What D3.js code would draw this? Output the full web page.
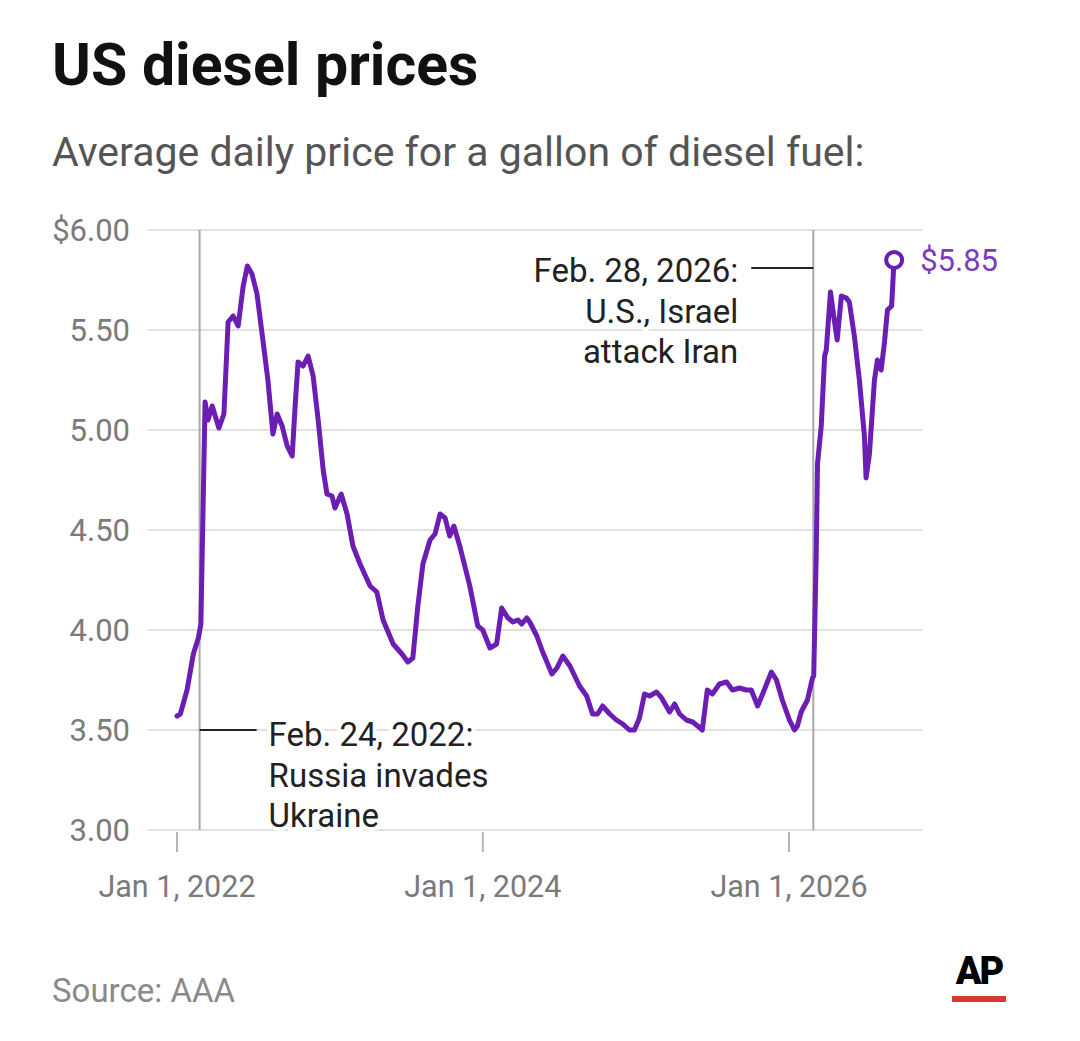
<!DOCTYPE html>
<html>
<head>
<meta charset="utf-8">
<script src="https://cdn.jsdelivr.net/npm/d3@7"></script>
<style>
  html, body { margin: 0; padding: 0; background: #fff; }
  svg { display: block; font-family: Roboto, "Noto Sans", sans-serif; }
</style>
</head>
<body>
<div class="chart"></div>
<script>
// average daily diesel price
const dates = [
  "2022-01-01","2022-01-09","2022-01-25","2022-02-09","2022-02-21","2022-02-27",
  "2022-03-09","2022-03-16","2022-03-26","2022-04-11","2022-04-23","2022-05-03",
  "2022-05-15","2022-05-27","2022-06-08","2022-06-18","2022-06-29","2022-07-11",
  "2022-07-25","2022-08-06","2022-08-18","2022-08-28","2022-09-09","2022-09-21",
  "2022-10-03","2022-10-10","2022-10-17","2022-10-29","2022-11-10","2022-11-22",
  "2022-12-04","2022-12-16","2022-12-25","2023-01-06","2023-01-13","2023-01-28",
  "2023-02-11","2023-02-25","2023-03-14","2023-04-07","2023-04-23","2023-05-08",
  "2023-06-01","2023-06-22","2023-07-06","2023-07-18","2023-07-30","2023-08-11",
  "2023-08-28","2023-09-09","2023-09-21","2023-10-03","2023-10-14","2023-10-24",
  "2023-11-07","2023-12-01","2023-12-20","2024-01-01","2024-01-18","2024-02-03",
  "2024-02-15","2024-03-01","2024-03-13","2024-03-25","2024-04-03","2024-04-15",
  "2024-04-22","2024-05-09","2024-05-23","2024-06-14","2024-06-26","2024-07-10",
  "2024-07-27","2024-08-19","2024-09-05","2024-09-19","2024-10-01","2024-10-13",
  "2024-10-30","2024-11-15","2024-11-30","2024-12-16","2024-12-28","2025-01-09",
  "2025-01-21","2025-02-02","2025-02-19","2025-03-03","2025-03-22","2025-04-03",
  "2025-04-15","2025-05-01","2025-05-16","2025-05-28","2025-06-08","2025-06-20",
  "2025-07-02","2025-07-19","2025-08-05","2025-08-19","2025-09-05","2025-09-21",
  "2025-10-03","2025-10-18","2025-10-30","2025-11-20","2025-12-02","2025-12-16",
  "2026-01-02","2026-01-14","2026-01-21","2026-01-30","2026-02-14","2026-02-26",
  "2026-03-01","2026-03-07","2026-03-10","2026-03-19","2026-03-27","2026-03-31",
  "2026-04-10","2026-04-19","2026-04-26","2026-05-06","2026-05-18","2026-05-25",
  "2026-06-06","2026-06-18","2026-06-30","2026-07-04","2026-07-12","2026-07-24",
  "2026-07-31","2026-08-09","2026-08-17","2026-08-24","2026-09-03","2026-09-07",
  "2026-09-09"
]
const prices = [
  3.57,3.58,3.70,3.88,3.96,4.03,
  5.14,5.05,5.12,5.01,5.08,5.54,
  5.57,5.52,5.72,5.82,5.78,5.68,
  5.45,5.25,4.98,5.08,5.02,4.92,
  4.87,5.12,5.34,5.32,5.37,5.27,
  5.05,4.80,4.68,4.67,4.61,4.68,
  4.58,4.42,4.33,4.22,4.19,4.05,
  3.93,3.88,3.84,3.86,4.12,4.33,
  4.45,4.48,4.58,4.56,4.47,4.52,
  4.42,4.22,4.02,4.00,3.91,3.93,
  4.11,4.06,4.04,4.05,4.03,4.06,
  4.04,3.97,3.89,3.78,3.81,3.87,
  3.82,3.72,3.67,3.58,3.58,3.62,
  3.58,3.55,3.53,3.50,3.50,3.56,
  3.68,3.67,3.69,3.66,3.59,3.63,
  3.58,3.55,3.54,3.52,3.50,3.70,
  3.68,3.73,3.74,3.70,3.71,3.70,
  3.70,3.62,3.68,3.79,3.75,3.65,
  3.55,3.50,3.52,3.59,3.65,3.76,
  3.77,4.38,4.83,5.02,5.37,5.40,
  5.69,5.55,5.45,5.67,5.66,5.64,
  5.47,5.25,4.97,4.76,4.88,5.25,
  5.35,5.30,5.44,5.60,5.62,5.78,
  5.85
]

const yTicks = [3, 3.5, 4, 4.5, 5, 5.5, 6]
const xTicks = ["2022-01-01", "2024-01-01", "2026-01-01"]
const events = [
  { date: "2022-02-24", lines: ["Feb. 24, 2022:", "Russia invades", "Ukraine"] },
  { date: "2026-02-28", lines: ["Feb. 28, 2026:", "U.S., Israel", "attack Iran"] }
]

const width = 1080
const height = 1041
const purple = "#6b1db4"
const parse = d3.timeParse("%Y-%m-%d")
const data = dates.map((d, i) => ({ date: parse(d), price: prices[i] }))

const gridLeft = 148
const gridRight = 922

const x = d3.scaleTime()
    .domain([parse("2022-01-01"), parse("2026-01-01")])
    .range([177, 789])
const y = d3.scaleLinear()
    .domain([3, 6])
    .range([830, 230])

const svg = d3.select(".chart")
    .append("svg")
    .attr("width", width)
    .attr("height", height)
    .attr("viewBox", `0 0 ${width} ${height}`)

// title + subtitle
svg.append("text")
    .attr("x", 52)
    .attr("y", 85)
    .attr("font-size", 59)
    .attr("font-weight", 700)
    .attr("fill", "#111")
    .text("US diesel prices")

svg.append("text")
    .attr("x", 52)
    .attr("y", 166)
    .attr("font-size", 41)
    .attr("fill", "#555")
    .text("Average daily price for a gallon of diesel fuel:")

// grid + y labels
svg.append("g")
    .selectAll("line")
    .data(yTicks)
    .join("line")
    .attr("x1", gridLeft)
    .attr("x2", gridRight)
    .attr("y1", d => y(d))
    .attr("y2", d => y(d))
    .attr("stroke", "#e1e1e1")
    .attr("stroke-width", 2)

svg.append("g")
    .selectAll("text")
    .data(yTicks)
    .join("text")
    .attr("x", 130)
    .attr("y", d => y(d) + 11)
    .attr("text-anchor", "end")
    .attr("font-size", 31)
    .attr("fill", "#7a7a7a")
    .text(d => (d === 6 ? "$" : "") + d.toFixed(2))

// x axis ticks
const xg = svg.append("g")
xg.selectAll("line")
    .data(xTicks)
    .join("line")
    .attr("x1", d => x(parse(d)))
    .attr("x2", d => x(parse(d)))
    .attr("y1", 832)
    .attr("y2", 852)
    .attr("stroke", "#b5b5b5")
    .attr("stroke-width", 2)

xg.selectAll("text")
    .data(xTicks)
    .join("text")
    .attr("x", d => x(parse(d)))
    .attr("y", 897)
    .attr("text-anchor", "middle")
    .attr("font-size", 30.5)
    .attr("fill", "#7a7a7a")
    .text(d => d3.timeFormat("%b %-d, %Y")(parse(d)))

// event lines
svg.append("g")
    .selectAll("line")
    .data(events)
    .join("line")
    .attr("x1", d => x(parse(d.date)))
    .attr("x2", d => x(parse(d.date)))
    .attr("y1", y(6))
    .attr("y2", y(3))
    .attr("stroke", "#a8a8a8")
    .attr("stroke-width", 2)

// price line
const line = d3.line()
    .x(d => x(d.date))
    .y(d => y(d.price))

svg.append("path")
    .datum(data)
    .attr("d", line)
    .attr("fill", "none")
    .attr("stroke", purple)
    .attr("stroke-width", 5)
    .attr("stroke-linejoin", "round")
    .attr("stroke-linecap", "round")

// annotations
const e1 = events[0], e2 = events[1]
const ex1 = x(parse(e1.date)), ex2 = x(parse(e2.date))

svg.append("line")
    .attr("x1", ex1).attr("x2", ex1 + 57)
    .attr("y1", y(3.5)).attr("y2", y(3.5))
    .attr("stroke", "#222").attr("stroke-width", 2)

svg.append("line")
    .attr("x1", ex2 - 62).attr("x2", ex2)
    .attr("y1", 268).attr("y2", 268)
    .attr("stroke", "#222").attr("stroke-width", 2)

function note(lines, px, py, anchor) {
    const t = svg.append("text")
        .attr("font-size", 33)
        .attr("fill", "#222")
        .attr("text-anchor", anchor)
        .attr("stroke", "#fff")
        .attr("stroke-width", 8)
        .attr("paint-order", "stroke")
    t.selectAll("tspan")
        .data(lines)
        .join("tspan")
        .attr("x", px)
        .attr("y", (d, i) => py + i * 40.5)
        .text(d => d)
}
note(e1.lines, ex1 + 69, 746, "start")
note(e2.lines, ex2 - 75, 282, "end")

// last value marker
const last = data[data.length - 1]
svg.append("circle")
    .attr("cx", x(last.date))
    .attr("cy", y(last.price))
    .attr("r", 8)
    .attr("fill", "#fff")
    .attr("stroke", purple)
    .attr("stroke-width", 4)

svg.append("text")
    .attr("x", x(last.date) + 26)
    .attr("y", y(last.price) + 11)
    .attr("font-size", 31)
    .attr("fill", "#7b3dbd")
    .text("$" + last.price.toFixed(2))

// footer
svg.append("text")
    .attr("x", 52)
    .attr("y", 1002)
    .attr("font-size", 33)
    .attr("fill", "#8a8a8a")
    .text("Source: AAA")

svg.append("text")
    .attr("x", 979)
    .attr("y", 984)
    .attr("text-anchor", "middle")
    .attr("font-size", 38)
    .attr("font-weight", 900)
    .attr("letter-spacing", -2)
    .attr("fill", "#000")
    .text("AP")

svg.append("rect")
    .attr("x", 952)
    .attr("y", 996)
    .attr("width", 54)
    .attr("height", 6)
    .attr("fill", "#d93a35")
</script>
</body>
</html>
